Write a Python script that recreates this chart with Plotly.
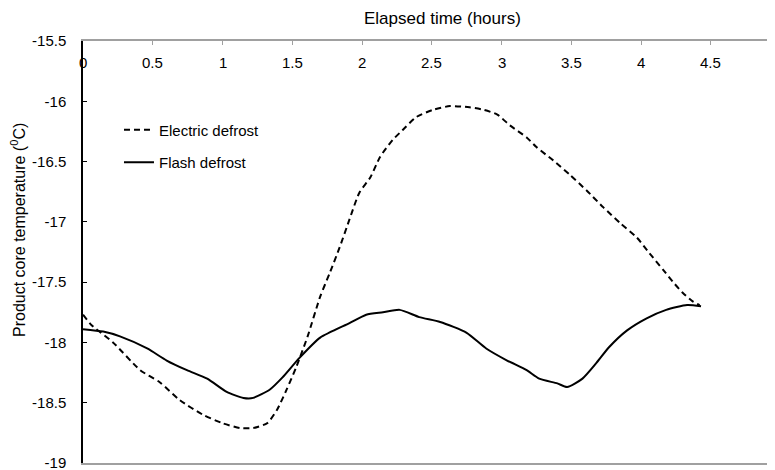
import plotly.graph_objects as go

# Electric defrost (dashed)
electric_x = [0.0, 0.06, 0.215, 0.41, 0.55, 0.695, 0.86, 1.0, 1.125, 1.22, 1.32, 1.39, 1.46, 1.53,
              1.61, 1.70, 1.77, 1.84, 1.91, 1.98, 2.06, 2.13, 2.22, 2.29, 2.39, 2.51, 2.63, 2.77,
              2.87, 2.97, 3.06, 3.18, 3.25, 3.37, 3.49, 3.61, 3.73, 3.85, 3.97, 4.06, 4.16, 4.23,
              4.30, 4.37, 4.42]
electric_y = [-17.77, -17.855, -18.0, -18.23, -18.33, -18.48, -18.6, -18.67, -18.71, -18.71, -18.67,
              -18.56, -18.39, -18.2, -17.95, -17.62, -17.42, -17.21, -16.98, -16.76, -16.63, -16.46,
              -16.32, -16.24, -16.13, -16.07, -16.04, -16.05, -16.07, -16.11, -16.2, -16.3, -16.38,
              -16.49, -16.61, -16.74, -16.88, -17.01, -17.13, -17.26, -17.4, -17.5, -17.59, -17.66,
              -17.69]

# Flash defrost (solid)
flash_x = [0.0, 0.145, 0.265, 0.46, 0.60, 0.745, 0.89, 1.03, 1.15, 1.22, 1.34, 1.43, 1.55, 1.70,
           1.91, 2.03, 2.15, 2.27, 2.41, 2.56, 2.75, 2.89, 3.04, 3.18, 3.27, 3.40, 3.47, 3.58,
           3.68, 3.77, 3.90, 4.04, 4.18, 4.33, 4.43]
flash_y = [-17.89, -17.91, -17.95, -18.05, -18.15, -18.23, -18.30, -18.41, -18.46, -18.46, -18.39,
           -18.29, -18.13, -17.96, -17.84, -17.77, -17.75, -17.73, -17.79, -17.83, -17.92, -18.05,
           -18.15, -18.23, -18.30, -18.34, -18.37, -18.30, -18.17, -18.04, -17.90, -17.80, -17.73,
           -17.69, -17.70]

x_ticks = [0, 0.5, 1, 1.5, 2, 2.5, 3, 3.5, 4, 4.5]
y_ticks = [-19, -18.5, -18, -17.5, -17, -16.5, -16, -15.5]

x_title = "Elapsed time (hours)"
y_title = "Product core temperature (<sup>0</sup>C)"

font_family = "Liberation Sans, Arial, Helvetica, sans-serif"

fig = go.Figure()
fig.add_trace(go.Scatter(x=electric_x, y=electric_y, mode="lines", name="Electric defrost",
                         legendgroup="e",
                         line=dict(color="black", width=2, dash="6px,4px", shape="spline", smoothing=0.6)))
fig.add_trace(go.Scatter(x=flash_x, y=flash_y, mode="lines", name="Flash defrost",
                         legendgroup="f",
                         line=dict(color="black", width=2, shape="spline", smoothing=0.6)))

annotations = []
# x tick labels drawn just below the top axis line (inside the plot)
for v in x_ticks:
    annotations.append(dict(x=v, xref="x", y=1, yref="paper", yshift=-21, yanchor="middle",
                            xanchor="center", text=str(v), showarrow=False,
                            font=dict(size=15, color="black")))
annotations.append(dict(x=0.519, xref="paper", y=1, yref="paper", yshift=23, yanchor="middle",
                        xanchor="center", text=x_title, showarrow=False,
                        font=dict(size=17, color="black")))
annotations.append(dict(x=-0.094, xref="paper", y=0.552, yref="paper", xanchor="center",
                        yanchor="middle", text=y_title, textangle=-90, showarrow=False,
                        font=dict(size=16, color="black")))

# page body has an 8px margin, so margins are offset by 8px to land the plot area in place
fig.update_layout(
    width=775, height=470,
    margin=dict(l=75, r=8, t=33, b=15, autoexpand=False),
    paper_bgcolor="white", plot_bgcolor="white",
    font=dict(family=font_family, size=15, color="black"),
    showlegend=True,
    legend=dict(x=0.052, y=0.828, xanchor="left", yanchor="top", bgcolor="rgba(0,0,0,0)",
                font=dict(size=15), tracegroupgap=10),
    annotations=annotations,
    xaxis=dict(
        side="top", range=[0, 4.96], tickvals=x_ticks, showticklabels=False,
        showgrid=False, zeroline=False, showline=True, linecolor="#a0a0a0", linewidth=1.5,
        mirror=True, ticks="inside", ticklen=4, tickcolor="#a0a0a0", automargin=False,
    ),
    yaxis=dict(
        range=[-19, -15.5], tickvals=y_ticks, ticktext=[str(v) for v in y_ticks],
        showgrid=False, zeroline=False, showline=True, linecolor="black", linewidth=1.5,
        ticks="inside", ticklen=4, tickcolor="black", ticklabelstandoff=12, automargin=False,
        tickfont=dict(size=15),
    ),
)

fig.write_html("out.html")
